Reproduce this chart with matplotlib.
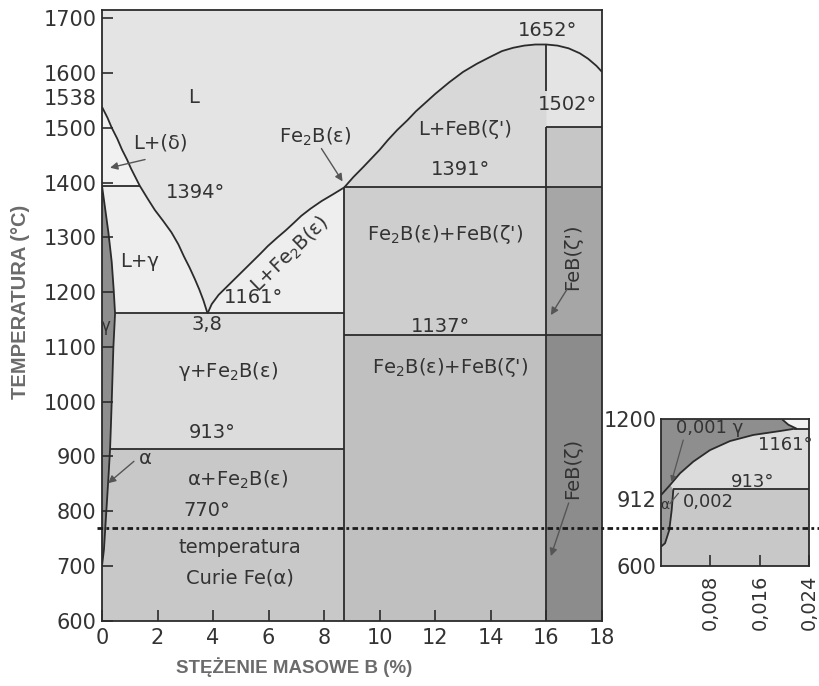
import numpy as np
import matplotlib.pyplot as plt
from matplotlib.lines import Line2D
from matplotlib.transforms import blended_transform_factory

# ---- main diagram (B wt%, temperature degC) ----
FE2B_X = 8.72      # Fe2B composition line
FEB_X = 16.0       # FeB composition line
T_EUT = 1161
T_FE2B = 1391
T_DELTA = 1394
T_913 = 913
T_FEB_TR = 1122    # drawn position of the 1137 line
T_FEB_TOP = 1502
T_CURIE = 770

liq_delta_x = [0.0, 0.2, 0.35, 0.55, 0.72, 0.9, 1.05, 1.2, 1.36]
liq_delta_T = [1538, 1518, 1500, 1480, 1460, 1442, 1425, 1410, 1394]
liq_gamma_x = [1.36, 1.65, 1.9, 2.2, 2.5, 2.75, 2.95, 3.15, 3.34, 3.5, 3.65, 3.8]
liq_gamma_T = [1394, 1370, 1350, 1330, 1309, 1287, 1265, 1245, 1224, 1205, 1185, 1161]
liq_fe2b_x = [3.8, 3.95, 4.2, 4.5, 4.78, 5.1, 5.4, 5.7, 5.97, 6.3, 6.6, 6.9, 7.17, 7.5, 7.9, 8.3, 8.72]
liq_fe2b_T = [1161, 1178, 1195, 1210, 1224, 1240, 1255, 1270, 1284, 1299, 1312, 1326, 1339, 1352, 1366, 1378, 1391]
liq_feb_x = [8.72, 9.05, 9.4, 9.7, 10.0, 10.3, 10.63, 11.0, 11.3, 11.65, 12.0, 12.5, 13.0, 13.5,
             14.0, 14.4, 14.8, 15.2, 15.6, 16.0, 16.4, 16.8, 17.2, 17.5, 17.8, 18.0]
liq_feb_T = [1391, 1410, 1428, 1444, 1460, 1478, 1496, 1514, 1530, 1546, 1562, 1583, 1602, 1617,
             1630, 1640, 1646, 1650, 1652, 1652, 1650, 1645, 1636, 1626, 1613, 1602]

gam_x = [0.0, 0.12, 0.23, 0.35, 0.42, 0.47, 0.44, 0.41, 0.38, 0.35, 0.32, 0.29]
gam_T = [1394, 1350, 1309, 1255, 1205, 1161, 1130, 1100, 1050, 1000, 955, 913]
alp_x = [0.29, 0.23, 0.14, 0.07, 0.0]
alp_T = [913, 860, 787, 730, 700]
I_EUT = gam_T.index(T_EUT)

# ---- inset (low-B corner) ----
in_gam_x = [0.0, 0.00146, 0.00307, 0.00523, 0.00793, 0.01117, 0.01494, 0.01926, 0.0215]
in_gam_T = [890, 931, 979, 1027, 1074, 1111, 1136, 1152, 1161]
in_liq_x = [0.0196, 0.0206, 0.0220]
in_liq_T = [1200, 1178, 1161]
in_alp_x = [0.002, 0.00173, 0.00134, 0.00065, 0.0]
in_alp_T = [913, 829, 747, 693, 679]

LINE = '#2b2b2b'
TXT = '#333333'
AXLAB = '#6b6b6b'

fig = plt.figure(figsize=(8.19, 6.86), dpi=100)
ax = fig.add_axes([102 / 819, 1 - 620.7 / 686, 500 / 819, 610.7 / 686])
ax.set_xlim(0, 18)
ax.set_ylim(600, 1715)
ax.set_facecolor('#e4e4e4')

# --- filled phase fields ---
# L+(delta)
ax.fill([0] + liq_delta_x, [T_DELTA] + liq_delta_T, color='#f1f1f1', lw=0)
# L+gamma and L+Fe2B
px = [0] + liq_gamma_x + liq_fe2b_x + [FE2B_X] + gam_x[I_EUT::-1]
pT = [T_DELTA] + liq_gamma_T + liq_fe2b_T + [T_EUT] + gam_T[I_EUT::-1]
ax.fill(px, pT, color='#eeeeee', lw=0)
# gamma+Fe2B
px = [gam_x[I_EUT], FE2B_X, FE2B_X] + gam_x[:I_EUT - 1:-1]
pT = [T_EUT, T_EUT, T_913] + gam_T[:I_EUT - 1:-1]
ax.fill(px, pT, color='#dcdcdc', lw=0)
# alpha+Fe2B
px = [alp_x[0], FE2B_X, FE2B_X, 0, 0] + alp_x[::-1]
pT = [T_913, T_913, 600, 600, 700] + alp_T[::-1]
ax.fill(px, pT, color='#c8c8c8', lw=0)
# gamma / alpha solid solution band
ax.fill(gam_x + alp_x[1:] + [0], gam_T + alp_T[1:] + [T_DELTA], color='#8e8e8e', lw=0)
# L+FeB
sel = [i for i, x in enumerate(liq_feb_x) if x <= FEB_X]
ax.fill([liq_feb_x[i] for i in sel] + [FEB_X], [liq_feb_T[i] for i in sel] + [T_FE2B],
        color='#d8d8d8', lw=0)
# two-phase Fe2B+FeB and FeB columns
ax.fill_between([FE2B_X, FEB_X], T_FEB_TR, T_FE2B, color='#cecece', lw=0)
ax.fill_between([FE2B_X, FEB_X], 600, T_FEB_TR, color='#c0c0c0', lw=0)
ax.fill_between([FEB_X, 18], T_FE2B, T_FEB_TOP, color='#c6c6c6', lw=0)
ax.fill_between([FEB_X, 18], T_FEB_TR, T_FE2B, color='#a6a6a6', lw=0)
ax.fill_between([FEB_X, 18], 600, T_FEB_TR, color='#8c8c8c', lw=0)

# --- boundary lines ---
kw = dict(color=LINE, lw=1.3, solid_capstyle='butt', solid_joinstyle='round')
ax.plot(liq_delta_x + liq_gamma_x, liq_delta_T + liq_gamma_T, **kw)
ax.plot(liq_fe2b_x, liq_fe2b_T, **kw)
ax.plot(liq_feb_x, liq_feb_T, **kw)
ax.plot(gam_x + alp_x[1:], gam_T + alp_T[1:], **kw)
ax.plot([0, liq_delta_x[-1]], [T_DELTA, T_DELTA], **kw)
ax.plot([gam_x[I_EUT], FE2B_X], [T_EUT, T_EUT], **kw)
ax.plot([alp_x[0], FE2B_X], [T_913, T_913], **kw)
ax.plot([FE2B_X, 18], [T_FE2B, T_FE2B], **kw)
ax.plot([FE2B_X, 18], [T_FEB_TR, T_FEB_TR], **kw)
ax.plot([FEB_X, 18], [T_FEB_TOP, T_FEB_TOP], **kw)
ax.plot([FE2B_X, FE2B_X], [600, T_FE2B], **kw)
ax.plot([FEB_X, FEB_X], [1652, 1568], **kw)
ax.plot([FEB_X, FEB_X], [600, T_FEB_TOP], **kw)

# --- axes styling ---
for s in ax.spines.values():
    s.set_color(LINE)
    s.set_linewidth(1.3)
ax.set_yticks(np.arange(600, 1701, 100))
ax.set_xticks(np.arange(0, 19, 2))
ax.tick_params(direction='in', length=8, width=1.2, color=LINE, labelsize=15,
               labelcolor=TXT, pad=4)
ax.tick_params(axis='x', pad=5)
ax.text(-0.2, 1552, '1538', ha='right', va='center', fontsize=15, color=TXT)
ax.set_ylabel('TEMPERATURA (°C)', fontsize=14.5, fontweight='bold', color=AXLAB,
              family=['Liberation Sans', 'DejaVu Sans'])
ax.yaxis.set_label_coords(-0.162, 0.522)
ax.yaxis.label.set_va('center')
ax.set_xlabel('STĘŻENIE MASOWE B (%)', fontsize=13.5, fontweight='bold', color=AXLAB,
              family=['Liberation Sans', 'DejaVu Sans'])
ax.xaxis.set_label_coords(0.385, -0.0758)
ax.xaxis.label.set_va('center')

# --- phase labels ---
fs = 14
def lab(x, y, s, **k):
    ax.text(x, y, s, fontsize=k.pop('fontsize', fs), color=TXT, ha='center', va='center', **k)

lab(3.28, 1556, 'L')
lab(2.09, 1473, 'L+(δ)')
lab(3.35, 1382, '1394°')
lab(1.37, 1256, 'L+γ')
lab(6.77, 1269, 'L+Fe$_2$B(ε)', rotation=44)
lab(5.44, 1190, '1161°')
lab(3.78, 1140, '3,8')
lab(0.14, 1138, 'γ', fontsize=12)
lab(4.54, 1055, 'γ+Fe$_2$B(ε)')
lab(3.96, 944, '913°')
lab(4.9, 858, 'α+Fe$_2$B(ε)')
lab(3.78, 802, '770°')
lab(4.97, 733, 'temperatura')
lab(4.97, 678, 'Curie Fe(α)')
lab(16.05, 1678, '1652°')
lab(16.77, 1542, '1502°')
lab(13.07, 1496, 'L+FeB(ζ\')')
lab(12.89, 1424, '1391°')
lab(12.35, 1305, 'Fe$_2$B(ε)+FeB(ζ\')')
lab(12.17, 1138, '1137°')
lab(12.53, 1062, 'Fe$_2$B(ε)+FeB(ζ\')')
lab(7.67, 1484, 'Fe$_2$B(ε)')
lab(1.55, 896, 'α')
lab(16.95, 1264, 'FeB(ζ\')', rotation=90)
lab(16.95, 878, 'FeB(ζ)', rotation=90)

arr = dict(arrowstyle='-|>', color='#555555', lw=1.0, mutation_scale=11, shrinkA=0, shrinkB=0)
ax.annotate('', xy=(0.29, 1427), xytext=(1.55, 1442), arrowprops=arr)
ax.annotate('', xy=(8.66, 1402), xytext=(7.9, 1462), arrowprops=arr)
ax.annotate('', xy=(0.22, 851), xytext=(1.15, 891), arrowprops=arr)
ax.annotate('', xy=(16.16, 1158), xytext=(16.74, 1205), arrowprops=arr)
ax.annotate('', xy=(16.16, 718), xytext=(16.8, 815), arrowprops=arr)

# ---- inset ----
ai = fig.add_axes([661 / 819, 1 - 566 / 686, 148.3 / 819, 146.7 / 686])
ai.set_xlim(0, 0.024)
ai.set_ylim(600, 1200)
ai.set_facecolor('#dcdcdc')
ai.fill(in_gam_x + in_liq_x[::-1] + [0], in_gam_T + in_liq_T[::-1] + [1200], color='#8e8e8e', lw=0)
ai.fill(in_liq_x + [0.024, 0.024], in_liq_T + [T_EUT, 1200], color='#f2f2f2', lw=0)
ai.fill(in_alp_x[::-1] + [0.024, 0.024, 0], in_alp_T[::-1] + [T_913, 600, 600], color='#c8c8c8', lw=0)
ai.fill(in_alp_x[::-1] + in_gam_x[1::-1], in_alp_T[::-1] + in_gam_T[1::-1], color='#9c9c9c', lw=0)
ai.plot(in_gam_x, in_gam_T, **kw)
ai.plot(in_liq_x, in_liq_T, **kw)
ai.plot(in_alp_x, in_alp_T, **kw)
ai.plot([in_gam_x[-1], 0.024], [T_EUT, T_EUT], **kw)
ai.plot([in_alp_x[0], 0.024], [T_913, T_913], **kw)
for s in ai.spines.values():
    s.set_color(LINE)
    s.set_linewidth(1.3)
ai.set_yticks([600, 1200], labels=['600', '1200'])
ai.set_xticks([0.008, 0.016, 0.024], labels=['0,008', '0,016', '0,024'])
ai.tick_params(axis='y', length=0, labelsize=15, labelcolor=TXT, pad=3)
ai.tick_params(axis='x', direction='in', length=8, width=1.2, color=LINE, labelsize=14,
               labelcolor=TXT, labelrotation=90, pad=6)
ai.text(-0.0008, 866, '912', ha='right', va='center', fontsize=15, color=TXT)
ai.text(0.0078, 1163, '0,001 γ', ha='center', va='center', fontsize=13, color=TXT)
ai.text(0.0201, 1095, '1161°', ha='center', va='center', fontsize=13, color=TXT)
ai.text(0.0149, 945, '913°', ha='center', va='center', fontsize=13, color=TXT)
ai.text(0.0077, 863, '0,002', ha='center', va='center', fontsize=13, color=TXT)
ai.text(0.00065, 848, 'α', ha='center', va='center', fontsize=10, color=TXT)
ai.annotate('', xy=(0.0017, 945), xytext=(0.0036, 1115),
            arrowprops=dict(arrowstyle='-|>', color='#555555', lw=0.9, mutation_scale=8,
                            shrinkA=0, shrinkB=0))
ai.plot([0.0028, 0.00146], [897, 856], color='#555555', lw=0.9)

# Curie line across main plot and inset
tr = blended_transform_factory(fig.transFigure, ax.transData)
fig.add_artist(Line2D([97 / 819, 1.0], [T_CURIE, T_CURIE], transform=tr, color='#1a1a1a',
                      lw=2.0, linestyle=(0, (2, 1.2, 1, 1.2))))

fig.savefig('out.png', dpi=100)
